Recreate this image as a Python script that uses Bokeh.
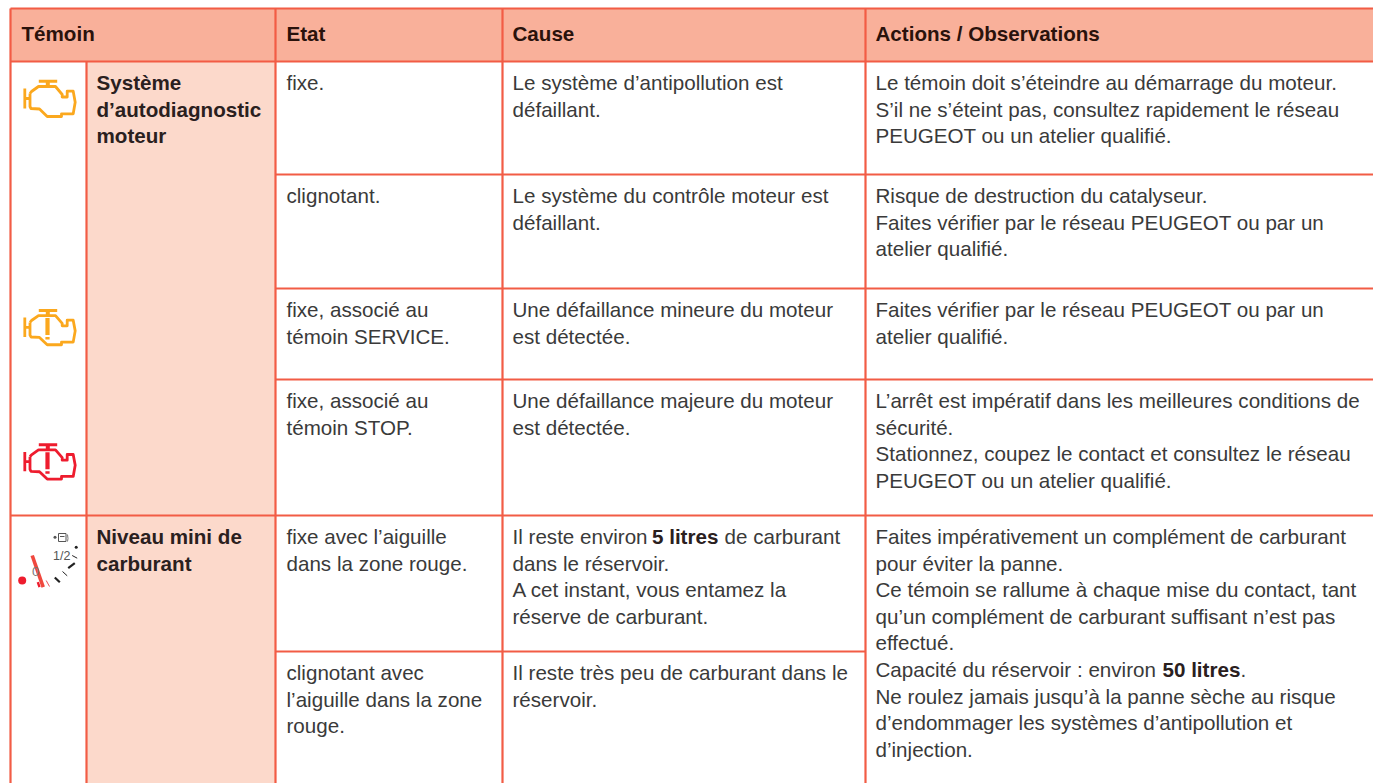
from bokeh.plotting import figure
from bokeh.models import Range1d
from bokeh.core.properties import value
from bokeh.embed import file_html
from bokeh.resources import INLINE

# ---- content ----
HEADERS = ["Témoin", "Etat", "Cause", "Actions / Observations"]
LABEL_1 = ["Système", "d’autodiagnostic", "moteur"]
LABEL_2 = ["Niveau mini de", "carburant"]
ETAT = [
    ["fixe."],
    ["clignotant."],
    ["fixe, associé au", "témoin SERVICE."],
    ["fixe, associé au", "témoin STOP."],
    ["fixe avec l’aiguille", "dans la zone rouge."],
    ["clignotant avec", "l’aiguille dans la zone", "rouge."],
]
CAUSE = [
    ["Le système d’antipollution est", "défaillant."],
    ["Le système du contrôle moteur est", "défaillant."],
    ["Une défaillance mineure du moteur", "est détectée."],
    ["Une défaillance majeure du moteur", "est détectée."],
    [[("Il reste environ", 0), ("5 litres", 1), ("de carburant", 0)],
     "dans le réservoir.", "A cet instant, vous entamez la", "réserve de carburant."],
    ["Il reste très peu de carburant dans le", "réservoir."],
]
ACTIONS = [
    ["Le témoin doit s’éteindre au démarrage du moteur.",
     "S’il ne s’éteint pas, consultez rapidement le réseau",
     "PEUGEOT ou un atelier qualifié."],
    ["Risque de destruction du catalyseur.",
     "Faites vérifier par le réseau PEUGEOT ou par un",
     "atelier qualifié."],
    ["Faites vérifier par le réseau PEUGEOT ou par un",
     "atelier qualifié."],
    ["L’arrêt est impératif dans les meilleures conditions de",
     "sécurité.",
     "Stationnez, coupez le contact et consultez le réseau",
     "PEUGEOT ou un atelier qualifié."],
    ["Faites impérativement un complément de carburant",
     "pour éviter la panne.",
     "Ce témoin se rallume à chaque mise du contact, tant",
     "qu’un complément de carburant suffisant n’est pas",
     "effectué.",
     [("Capacité du réservoir : environ", 0), ("50 litres", 1), (".", 0)],
     "Ne roulez jamais jusqu’à la panne sèche au risque",
     "d’endommager les systèmes d’antipollution et",
     "d’injection."],
]

# ---- layout (window pixels) ----
W, H = 1373, 783
COL = [10, 86, 275, 502, 865]
ROW = [8, 61, 174, 288, 379, 515, 651]
TX = {"head0": 21, "label": 96, "etat": 286, "cause": 512, "act": 875}
LH = 26.6
FS, FSB, FSH = 20.6, 20.6, 20.6
LINE, HEAD, PINK = "#F25C45", "#F9B09A", "#FCD9CB"
INK, INKB, INKH = "#3A3A3A", "#2A201E", "#2A120C"
AMBER, RED = "#FBA81E", "#EE1C2E"
FONT = value("Liberation Sans")
# advance of regular / bold runs in px, to place mixed-weight text
SEG = {"Il reste environ": 139.5, "5 litres": 72.5, "Capacité du réservoir : environ": 287, "50 litres": 78}
BASE_SHIFT = 0.385  # bokeh draws the baseline this many em below the anchor

p = figure(width=W, height=H, output_backend="svg", toolbar_location=None,
           x_range=Range1d(0, W), y_range=Range1d(H, 0), min_border=0,
           outline_line_color=None, x_axis_type=None, y_axis_type=None)
p.grid.visible = False
p.background_fill_color = "white"
p.border_fill_color = "white"

# fills
p.quad(left=COL[0], right=W, top=ROW[0], bottom=ROW[1], fill_color=HEAD, line_color=None)
p.quad(left=COL[1], right=COL[2], top=ROW[1], bottom=H, fill_color=PINK, line_color=None)

# rules
for y, x0 in [(ROW[0], COL[0]), (ROW[1], COL[0]), (ROW[2], COL[2]), (ROW[3], COL[2]), (ROW[4], COL[2]), (ROW[5], COL[0])]:
    p.line([x0, W], [y, y], line_color=LINE, line_width=2.2)
p.line([COL[2], COL[4]], [ROW[6], ROW[6]], line_color=LINE, line_width=2.2)
for x, y0 in [(COL[0], ROW[0]), (COL[1], ROW[1]), (COL[2], ROW[0]), (COL[3], ROW[0]), (COL[4], ROW[0])]:
    p.line([x, x], [y0, H], line_color=LINE, line_width=2.2)


def put(x, y, s, bold=False, color=INK, size=FS):
    p.text([x], [y - BASE_SHIFT * size], text=[s], text_font=FONT, text_font_size=value(f"{size}px"),
           text_font_style="bold" if bold else "normal", text_color=color,
           text_baseline="alphabetic", text_align="left")


def block(x, y0, lines):
    for i, ln in enumerate(lines):
        y = y0 + i * LH
        if isinstance(ln, str):
            put(x, y, ln)
        else:
            cx = x
            for s, b in ln:
                put(cx, y, s, bool(b), INKB if b else INK)
                cx += SEG.get(s, 0)


# header
for x, s in zip([TX["head0"], TX["etat"], TX["cause"], TX["act"]], HEADERS):
    put(x, 41, s, True, INKH, FSH)

# side labels
for i, s in enumerate(LABEL_1):
    put(TX["label"], ROW[1] + 29 + i * LH, s, True, INKB, FSB)
for i, s in enumerate(LABEL_2):
    put(TX["label"], ROW[5] + 29 + i * LH, s, True, INKB, FSB)

# table cells
FIRST = [r + 29 for r in ROW[1:]]
for r, lines in enumerate(ETAT):
    block(TX["etat"], FIRST[r], lines)
for r, lines in enumerate(CAUSE):
    block(TX["cause"], FIRST[r], lines)
for r, lines in enumerate(ACTIONS):
    block(TX["act"], FIRST[r], lines)


# ---- warning lamps (pictograms) ----
def engine(dy, sy, color, bang=False):
    def Y(v):
        return 80.7 + dy + (v - 80.7) * sy
    body_x = [29.5, 31, 38, 55, 61.7, 61.7, 66.7, 66.7, 72.7, 74.7, 72.7, 61, 61, 46.7, 39, 30.5, 29.5, 29.5]
    body_y = [93, 91, 86, 86, 94, 96.5, 96.5, 90.7, 90.7, 101.7, 113.3, 113.3, 116, 116, 108.5, 108, 106, 93]
    kw = dict(line_color=color, line_width=2.8, line_join="round")
    p.line(body_x, [Y(v) for v in body_y], **kw)
    p.line([38.3, 56.7], [Y(80.7), Y(80.7)], line_color=color, line_width=3)
    p.line([47.3, 47.3], [Y(80.7), Y(86)], line_color=color, line_width=4)
    p.line([24.3, 24.3], [Y(88), Y(108)], **kw)
    p.line([24.3, 29.3], [Y(98), Y(98)], **kw)
    if bang:
        p.line([47, 47], [Y(88.5), Y(106)], line_color=color, line_width=4.2)
        p.line([47, 47], [Y(108), Y(110.5)], line_color=color, line_width=4.2)


engine(0, 1, AMBER)
engine(229.3, 0.97, AMBER, True)
engine(363.6, 0.97, RED, True)

# fuel gauge
G = "#222222"
p.line([31.7, 42.7], [555, 586.7], line_color="#F0483E", line_width=3.6)
p.scatter([21.7], [580], size=8, marker="circle", fill_color=RED, line_color=None)
p.line([37.3, 39], [581.7, 586.7], line_color=RED, line_width=2.4)
p.line([45.7, 49], [580, 586], line_color="#E8505A", line_width=1)
p.line([54.3, 59.3], [577, 581.7], line_color=G, line_width=2.2)
p.line([62, 66.7], [571, 575.3], line_color=G, line_width=1)
p.line([67.7, 74.3], [567.7, 562.7], line_color=G, line_width=2.2)
p.line([71.7, 76.7], [555, 557.7], line_color=G, line_width=1)
p.scatter([75.7], [546.7], size=3, marker="circle", fill_color=G, line_color=None)
put(52.5, 560.5, "1/2", False, "#555555", 12.5)
put(31.5, 576.5, "0", False, "#777777", 13)
p.line([58, 58, 65.5, 65.5, 58], [533, 541, 541, 533, 533], line_color="#555555", line_width=1)
p.line([59.5, 64], [536, 536], line_color="#555555", line_width=1)
p.line([67, 67.5, 67], [534, 538, 541], line_color="#777777", line_width=1)
p.scatter([54.5], [536.7], size=3, marker="circle", fill_color="#555555", line_color=None)

open("out.html", "w").write(file_html(p, INLINE))
